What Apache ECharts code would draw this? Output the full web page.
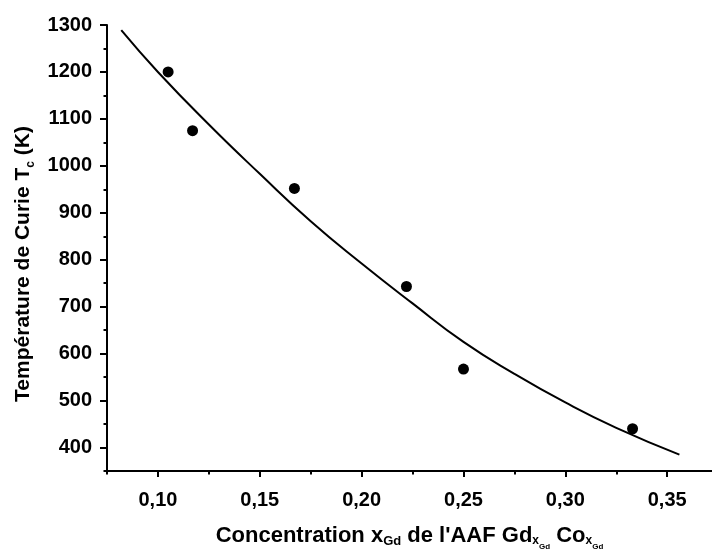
<!DOCTYPE html>
<html>
<head>
<meta charset="utf-8">
<script src="https://cdn.jsdelivr.net/npm/echarts@6/dist/echarts.min.js"></script>
<style>
  html, body { margin: 0; padding: 0; background: #fff; }
  #chart { width: 712px; height: 556px; }
</style>
</head>
<body>
<div id="chart"></div>
<script>
// Measured points
const concentrations = [0.105, 0.117, 0.167, 0.222, 0.250, 0.333];
const curieTemps = [1200, 1075, 952, 743, 567, 440];

// Fitted curve
const fitX = [0.082, 0.100, 0.125, 0.150, 0.175, 0.200, 0.225, 0.250, 0.275, 0.300, 0.325, 0.356];
const fitY = [1289, 1200, 1088, 983, 882, 792, 707, 625, 557, 496, 442, 385];

// Tick values
const xMajorTicks = [0.10, 0.15, 0.20, 0.25, 0.30, 0.35];
const xMinorTicks = [0.075, 0.125, 0.175, 0.225, 0.275, 0.325];
const yMajorTicks = [400, 500, 600, 700, 800, 900, 1000, 1100, 1200, 1300];
const yMinorTicks = [350, 450, 550, 650, 750, 850, 950, 1050, 1150, 1250];

const FONT = '"Liberation Sans", Arial, sans-serif';

const chart = echarts.init(document.getElementById('chart'), null, { renderer: 'canvas' });

const xRange = { min: 0.075, max: 0.372 };
const yRange = { min: 350, max: 1300 };

chart.setOption({
  animation: false,
  backgroundColor: '#ffffff',
  grid: { left: 107, right: 0, top: 25, bottom: 78 },
  xAxis: [
    {
      type: 'value',
      min: xRange.min, max: xRange.max,
      position: 'bottom',
      name: 'Concentration x{sub|Gd} de l\'AAF Gd{s1|x}{s2|Gd} Co{s1|x}{s2|Gd}',
      nameLocation: 'middle',
      nameGap: 50,
      nameTextStyle: {
        fontFamily: FONT, fontWeight: 'bold', fontSize: 22, color: '#000',
        verticalAlign: 'top',
        rich: {
          sub: { fontFamily: FONT, fontWeight: 'bold', fontSize: 13, color: '#000', verticalAlign: 'top', padding: [14, 0, 0, 0] },
          s1: { fontFamily: FONT, fontWeight: 'bold', fontSize: 12, color: '#000', verticalAlign: 'top', padding: [14, 0, 0, 0] },
          s2: { fontFamily: FONT, fontWeight: 'bold', fontSize: 8, color: '#000', verticalAlign: 'top', padding: [22, 0, 0, 0] }
        }
      },
      axisLine: { show: true, onZero: false, lineStyle: { color: '#000', width: 2 } },
      axisTick: { show: true, inside: false, length: 6, lineStyle: { color: '#000', width: 2 }, customValues: xMajorTicks },
      axisLabel: {
        show: true, margin: 19, color: '#000', fontFamily: FONT, fontWeight: 'bold', fontSize: 20,
        customValues: xMajorTicks,
        formatter: v => v.toFixed(2).replace('.', ',')
      },
      splitLine: { show: false }
    },
    {
      type: 'value',
      min: xRange.min, max: xRange.max,
      position: 'bottom',
      axisLine: { show: false },
      axisTick: { show: true, inside: false, length: 3.5, lineStyle: { color: '#000', width: 2 }, customValues: xMinorTicks },
      axisLabel: { show: false },
      splitLine: { show: false }
    }
  ],
  yAxis: [
    {
      type: 'value',
      min: yRange.min, max: yRange.max,
      position: 'left',
      name: 'Température de Curie T{sub|c} (K)',
      nameLocation: 'middle',
      nameGap: 74,
      nameTextStyle: {
        fontFamily: FONT, fontWeight: 'bold', fontSize: 21, color: '#000',
        verticalAlign: 'top',
        padding: [0, 32, 0, 0],
        rich: {
          sub: { fontFamily: FONT, fontWeight: 'bold', fontSize: 12, color: '#000', verticalAlign: 'top', padding: [14, 0, 0, 0] }
        }
      },
      axisLine: { show: true, onZero: false, lineStyle: { color: '#000', width: 2 } },
      axisTick: { show: true, inside: false, length: 7, lineStyle: { color: '#000', width: 2 }, customValues: yMajorTicks },
      axisLabel: {
        show: true, margin: 15, color: '#000', fontFamily: FONT, fontWeight: 'bold', fontSize: 20,
        customValues: yMajorTicks,
        formatter: v => String(v)
      },
      splitLine: { show: false }
    },
    {
      type: 'value',
      min: yRange.min, max: yRange.max,
      position: 'left',
      axisLine: { show: false },
      axisTick: { show: true, inside: false, length: 3.5, lineStyle: { color: '#000', width: 2 }, customValues: yMinorTicks },
      axisLabel: { show: false },
      splitLine: { show: false }
    }
  ],
  series: [
    {
      type: 'line',
      xAxisIndex: 0, yAxisIndex: 0,
      data: fitX.map((x, i) => [x, fitY[i]]),
      smooth: true,
      showSymbol: false,
      symbol: 'none',
      lineStyle: { color: '#000', width: 2 },
      silent: true
    },
    {
      type: 'scatter',
      xAxisIndex: 0, yAxisIndex: 0,
      data: concentrations.map((x, i) => [x, curieTemps[i]]),
      symbol: 'circle',
      symbolSize: 11,
      itemStyle: { color: '#000', opacity: 1 }
    }
  ]
});
</script>
</body>
</html>
